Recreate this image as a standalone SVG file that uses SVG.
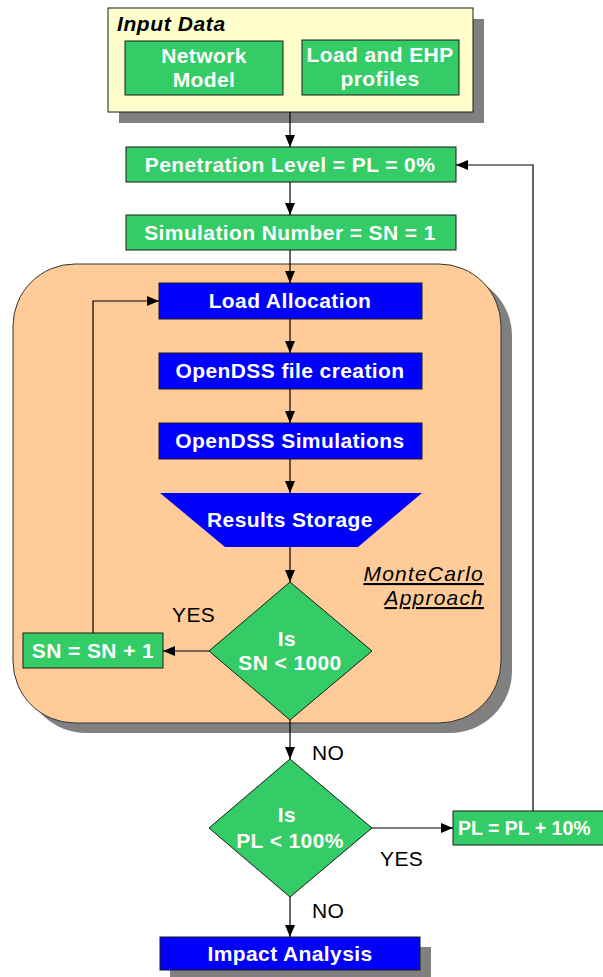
<svg xmlns="http://www.w3.org/2000/svg" width="603" height="977" viewBox="0 0 603 977">
<defs>
<marker id="arr" markerWidth="12" markerHeight="10" refX="12" refY="5" orient="auto" markerUnits="userSpaceOnUse">
<path d="M0,0 L12,5 L0,10 Z" fill="#000"/>
</marker>
<style>
.t{font-family:"Liberation Sans",Arial,sans-serif;font-weight:bold;font-size:21px;letter-spacing:0.4px;fill:#fff;text-anchor:middle}
.k{font-family:"Liberation Sans",Arial,sans-serif;font-size:21px;letter-spacing:0.4px;fill:#000}
.it{font-family:"Liberation Sans",Arial,sans-serif;font-size:21px;font-style:italic;letter-spacing:0.6px;fill:#000}
.g{fill:#33CC66;stroke:#1a1a1a;stroke-width:1}
.b{fill:#0000FF;stroke:#1a1a1a;stroke-width:1}
.sh{fill:#808080}
.c{fill:none;stroke:#000;stroke-width:1.2}
</style>
</defs>
<rect width="603" height="977" fill="#fff"/>
<g id="input">
<rect class="sh" x="119" y="19" width="365" height="104"/>
<rect x="108" y="8" width="365" height="104" fill="#FFFFCC" stroke="#1a1a1a"/>
<text class="it" x="117" y="31" font-weight="bold">Input Data</text>
</g>
<g id="network"><rect class="g" x="125" y="41" width="158" height="54"/><text class="t" x="204" y="63">Network</text><text class="t" x="204" y="87">Model</text></g>
<g id="load"><rect class="g" x="302" y="40" width="157" height="55"/><text class="t" x="380" y="62">Load and EHP</text><text class="t" x="380" y="86">profiles</text></g>
<g id="montecarlo">
<rect class="sh" x="24" y="274" width="488" height="459" rx="62"/>
<rect x="13" y="264" width="488" height="459" rx="62" fill="#FFCC99" stroke="#333"/>
<text class="it" x="484" y="581" text-anchor="end" text-decoration="underline" style="letter-spacing:1.2px">MonteCarlo</text>
<text class="it" x="484" y="605" text-anchor="end" text-decoration="underline" style="letter-spacing:1.2px">Approach</text>
</g>
<g id="pl0"><rect class="g" x="126" y="147" width="330" height="35"/><text class="t" x="290" y="172">Penetration Level = PL = 0%</text></g>
<g id="sn1"><rect class="g" x="126" y="215" width="330" height="35"/><text class="t" x="290" y="240">Simulation Number = SN = 1</text></g>
<g id="loadalloc"><rect class="b" x="159" y="283" width="263" height="36"/><text class="t" x="290" y="308">Load Allocation</text></g>
<g id="filecreation"><rect class="b" x="159" y="353" width="263" height="36"/><text class="t" x="290" y="378">OpenDSS file creation</text></g>
<g id="simulations"><rect class="b" x="159" y="423" width="263" height="36"/><text class="t" x="290" y="448">OpenDSS Simulations</text></g>
<g id="storage"><polygon points="160,493 422,493 358,547 225,547" fill="#0000FF"/><text class="t" x="290" y="527">Results Storage</text></g>
<g id="dec1"><polygon class="g" points="290,582 372,651 290,720 209,651"/><text class="t" x="287" y="646">Is</text><text class="t" x="290" y="670">SN &lt; 1000</text></g>
<g id="snplus"><rect class="g" x="23" y="633" width="140" height="35"/><text class="t" x="93" y="658">SN = SN + 1</text></g>
<g id="dec2"><polygon class="g" points="290,759 372,828 290,897 209,828"/><text class="t" x="287" y="822">Is</text><text class="t" x="290" y="848">PL &lt; 100%</text></g>
<g id="plplus"><rect class="g" x="453" y="811" width="160" height="34"/><text class="t" x="458" y="835" style="text-anchor:start;font-size:19.5px;letter-spacing:0">PL = PL + 10%</text></g>
<g id="impact"><rect class="sh" x="170" y="947" width="261" height="33"/><rect class="b" x="160" y="937" width="260" height="33"/><text class="t" x="290" y="961">Impact Analysis</text></g>
<g id="connectors">
<path class="c" d="M290,112 V147" marker-end="url(#arr)"/>
<path class="c" d="M290,182 V215" marker-end="url(#arr)"/>
<path class="c" d="M290,250 V283" marker-end="url(#arr)"/>
<path class="c" d="M290,319 V353" marker-end="url(#arr)"/>
<path class="c" d="M290,389 V423" marker-end="url(#arr)"/>
<path class="c" d="M290,459 V493" marker-end="url(#arr)"/>
<path class="c" d="M290,547 V582" marker-end="url(#arr)"/>
<path class="c" d="M209,651 H163" marker-end="url(#arr)"/>
<path class="c" d="M93,633 V301 H159" marker-end="url(#arr)"/>
<path class="c" d="M290,720 V759" marker-end="url(#arr)"/>
<path class="c" d="M372,828 H453" marker-end="url(#arr)"/>
<path class="c" d="M533,811 V165 H456" marker-end="url(#arr)"/>
<path class="c" d="M290,897 V937" marker-end="url(#arr)"/>
<text class="k" x="172" y="622">YES</text>
<text class="k" x="312" y="760">NO</text>
<text class="k" x="380" y="866">YES</text>
<text class="k" x="312" y="918">NO</text>
</g>
</svg>
